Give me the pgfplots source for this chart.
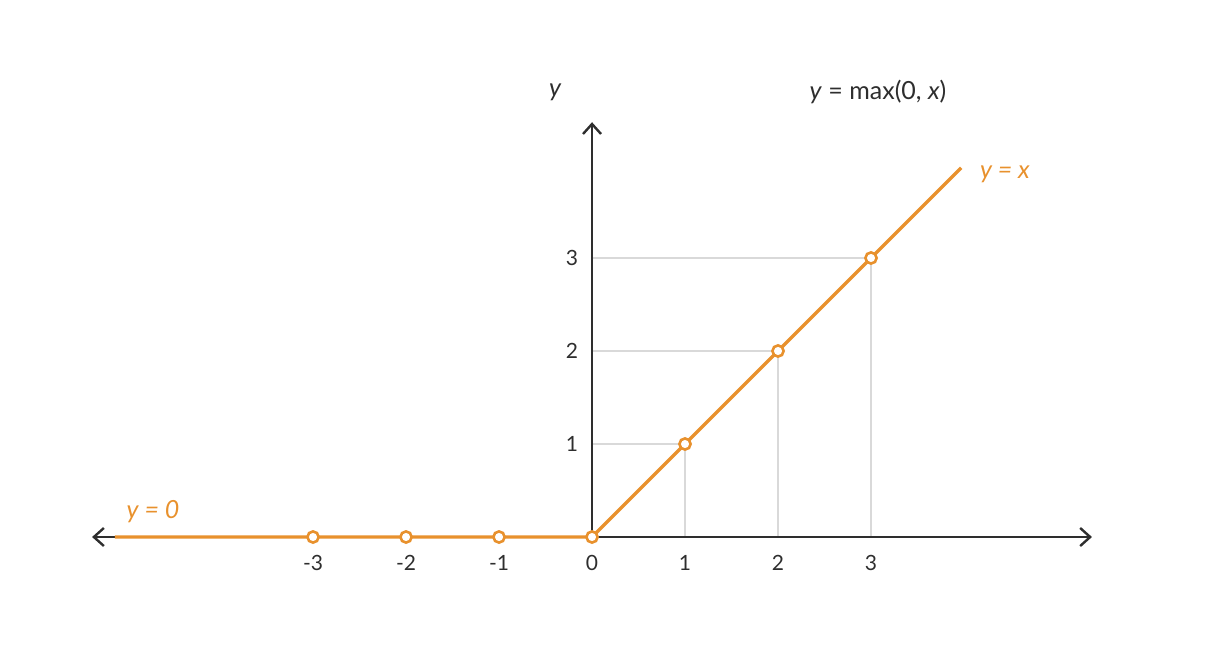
\documentclass[border=0pt]{standalone}
\usepackage{pgfplots}
\pgfplotsset{compat=1.18}
\usepackage{fontspec}
\setmainfont{Lato}
\usetikzlibrary{arrows.meta}
\definecolor{relu}{HTML}{E8912D}
\definecolor{axisc}{HTML}{2E2E2E}
\definecolor{gridc}{HTML}{D9D9D9}
\begin{document}
\begin{tikzpicture}
\begin{axis}[
  scale only axis,
  width=603.5pt, height=335pt,
  xmin=-6.366, xmax=6.613,
  ymin=-1.430, ymax=5.774,
  axis lines=middle,
  axis line style={draw=none},
  hide obscured x ticks=false,
  hide obscured y ticks=false,
  xtick={-3,-2,-1,0,1,2,3},
  ytick={1,2,3},
  major tick length=0pt,
  tick style={draw=none},
  /pgf/number format/assume math mode=true,
  xticklabel style={anchor=center, yshift=-13pt, font=\fontsize{10.5}{12}\selectfont, text=axisc},
  yticklabel style={anchor=center, xshift=-10pt, font=\fontsize{10.5}{12}\selectfont, text=axisc},
  clip=false,
]
% drop lines
\addplot[gridc, line width=0.8pt] coordinates {(0,1) (1,1) (1,0)};
\addplot[gridc, line width=0.8pt] coordinates {(0,2) (2,2) (2,0)};
\addplot[gridc, line width=0.8pt] coordinates {(0,3) (3,3) (3,0)};
% axes
\draw[axisc, line width=1.2pt, {Straight Barb[length=5pt,width=9pt]}-{Straight Barb[length=5pt,width=9pt]}] (axis cs:-5.376,0) -- (axis cs:5.376,0);
\draw[axisc, line width=1.2pt, -{Straight Barb[length=5pt,width=9pt]}] (axis cs:0,0) -- (axis cs:0,4.46);
% relu
\addplot[relu, line width=1.7pt] coordinates {(-5.13,0) (0,0) (3.97,3.97)};
\addplot[only marks, mark=*, mark size=2.8pt, mark options={fill=white, draw=relu, line width=1.3pt}] coordinates {(-3,0) (-2,0) (-1,0) (0,0) (1,1) (2,2) (3,3)};
% labels
\node[text=axisc, font=\fontsize{12.5}{14}\selectfont\itshape] at (axis cs:-0.398,4.785) {y};
\node[text=axisc, font=\fontsize{12.5}{14}\selectfont] at (axis cs:3.075,4.785) {\textit{y} = max(0, \textit{x})};
\node[text=relu, font=\fontsize{12.5}{14}\selectfont\itshape] at (axis cs:4.44,3.90) {y = x};
\node[text=relu, font=\fontsize{12.5}{14}\selectfont\itshape] at (axis cs:-4.72,0.27) {y = 0};
\end{axis}
\end{tikzpicture}
\end{document}
